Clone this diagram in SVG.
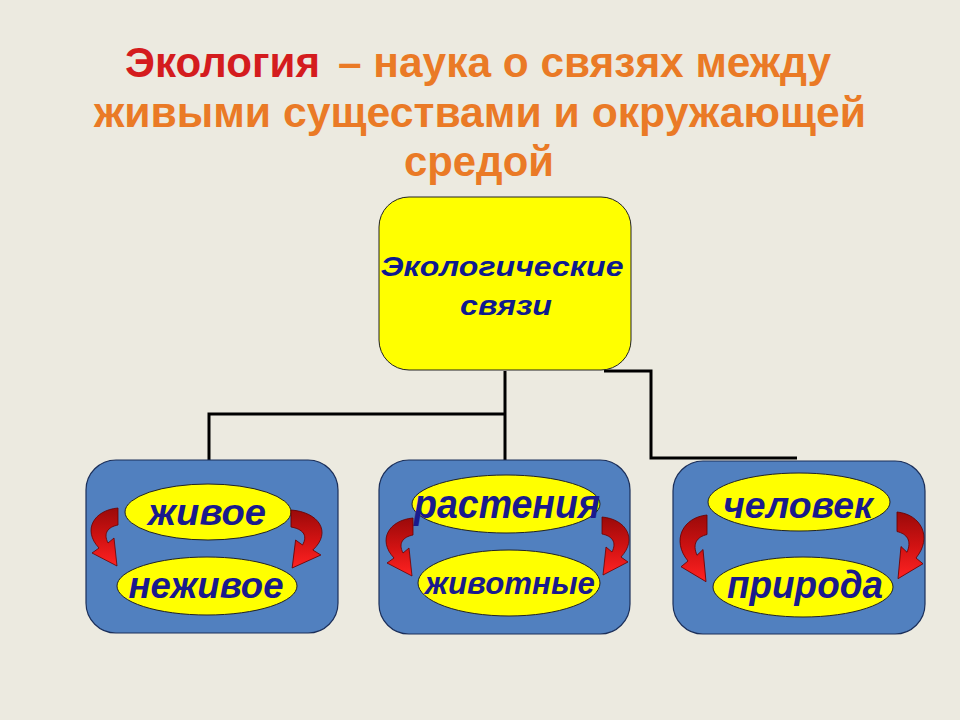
<svg xmlns="http://www.w3.org/2000/svg" xmlns:xlink="http://www.w3.org/1999/xlink" width="960" height="720" viewBox="0 0 960 720">
<style>
.title{font-family:"Liberation Sans Narrow","Liberation Sans",Arial,sans-serif;font-weight:bold;font-size:42px}
.red{fill:#D41C1E}
.orange{fill:#EA7A26}
.main{font-family:"Liberation Sans",Arial,sans-serif;font-weight:bold;font-style:italic;font-size:27px;fill:#0E1A8E;text-anchor:middle}
.lbl{font-family:"Liberation Sans",Arial,sans-serif;font-weight:bold;font-style:italic;fill:#1A1A8C;text-anchor:middle}
.box{fill:#5180BF;stroke:#1B2F5A;stroke-width:1.2}
.ell{fill:#FFFF00;stroke:#222;stroke-width:1}
.conn{fill:none;stroke:#000;stroke-width:3}
</style>
<defs>
<linearGradient id="rg" x1="0" y1="0" x2="0" y2="1">
<stop offset="0" stop-color="#9A0A0A"/>
<stop offset="0.5" stop-color="#D01212"/>
<stop offset="1" stop-color="#FF2222"/>
</linearGradient>
<path id="arr" d="M 0 0 C -24 2, -36 22, -19 40 L -26 45 L -1 58 L -4 30 L -10 35 C -15 25, -10 19, 0 17 Z" fill="url(#rg)" stroke="#6A0000" stroke-width="0.8"/>
</defs>
<rect width="960" height="720" fill="#ECEAE0"/>
<g id="title">
<text class="title red" x="125" y="77" textLength="195" lengthAdjust="spacingAndGlyphs">Экология</text>
<text class="title orange" x="338" y="77" textLength="493" lengthAdjust="spacingAndGlyphs">– наука о связях между</text>
<text class="title orange" x="94" y="127" textLength="772" lengthAdjust="spacingAndGlyphs">живыми существами и окружающей</text>
<text class="title orange" x="404" y="176" textLength="150" lengthAdjust="spacingAndGlyphs">средой</text>
</g>
<g id="connectors">
<polyline class="conn" points="505,371 505,460"/>
<polyline class="conn" points="505,414 209,414 209,460"/>
<polyline class="conn" points="604,371 651,371 651,458 797,458"/>
</g>
<g id="root">
<rect x="379" y="197" width="252" height="173" rx="30" ry="30" fill="#FFFF00" stroke="#222" stroke-width="1"/>
<text class="main" x="502" y="276" textLength="243" lengthAdjust="spacingAndGlyphs">Экологические</text>
<text class="main" x="506" y="315" textLength="92" lengthAdjust="spacingAndGlyphs">связи</text>
</g>
<g id="box1">
<rect class="box" x="86" y="460" width="252" height="173" rx="30" ry="30"/>
<ellipse class="ell" cx="208" cy="512" rx="83" ry="28"/>
<ellipse class="ell" cx="207" cy="586" rx="90" ry="29"/>
<text class="lbl" x="207" y="525" font-size="36" textLength="118" lengthAdjust="spacingAndGlyphs">живое</text>
<text class="lbl" x="206" y="598" font-size="36" textLength="155" lengthAdjust="spacingAndGlyphs">неживое</text>
<use xlink:href="#arr" transform="translate(118,508)"/>
<use xlink:href="#arr" transform="translate(291,510) scale(-1.15,1)"/>
</g>
<g id="box2">
<rect class="box" x="379" y="460" width="251" height="174" rx="30" ry="30"/>
<ellipse class="ell" cx="506" cy="504" rx="94" ry="29"/>
<ellipse class="ell" cx="509" cy="583" rx="91" ry="33"/>
<text class="lbl" x="507" y="518" font-size="40" textLength="186" lengthAdjust="spacingAndGlyphs">растения</text>
<text class="lbl" x="510" y="594" font-size="31" textLength="170" lengthAdjust="spacingAndGlyphs">животные</text>
<use xlink:href="#arr" transform="translate(413,518)"/>
<use xlink:href="#arr" transform="translate(602,517) scale(-1,1)"/>
</g>
<g id="box3">
<rect class="box" x="673" y="461" width="252" height="173" rx="30" ry="30"/>
<ellipse class="ell" cx="799" cy="502" rx="91" ry="29"/>
<ellipse class="ell" cx="803" cy="587" rx="90" ry="30"/>
<text class="lbl" x="798" y="518" font-size="36" textLength="150" lengthAdjust="spacingAndGlyphs">человек</text>
<text class="lbl" x="805" y="598" font-size="38" textLength="156" lengthAdjust="spacingAndGlyphs">природа</text>
<use xlink:href="#arr" transform="translate(707,515) scale(1,1.15)"/>
<use xlink:href="#arr" transform="translate(897,512) scale(-1,1.15)"/>
</g>
</svg>
